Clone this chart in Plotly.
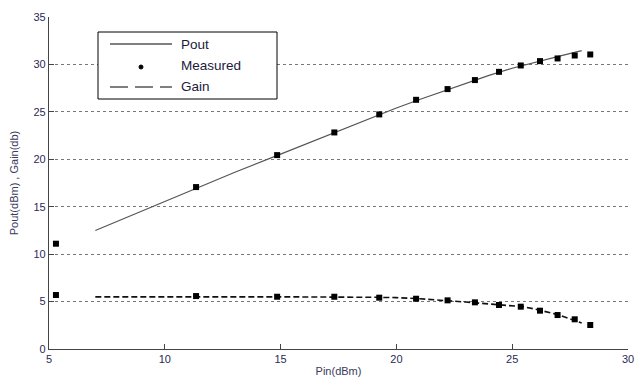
import plotly.graph_objects as go

# ---- data ----
pin_measured = [5.3, 11.35, 14.85, 17.32, 19.26, 20.85, 22.21, 23.39, 24.43, 25.37, 26.2, 26.96, 27.7, 28.37]
pout_measured = [11.1, 17.07, 20.44, 22.83, 24.73, 26.27, 27.40, 28.35, 29.22, 29.89, 30.35, 30.63, 30.94, 31.05]
gain_measured = [5.69, 5.58, 5.51, 5.51, 5.41, 5.30, 5.13, 4.92, 4.64, 4.46, 4.04, 3.58, 3.13, 2.53]

pin_pout_model = [7, 9, 11, 13, 15, 17, 19, 20, 21, 22, 23, 24, 25, 26, 27, 28]
pout_model = [12.5, 14.55, 16.6, 18.6, 20.55, 22.5, 24.45, 25.4, 26.3, 27.15, 28.0, 28.85, 29.6, 30.25, 30.85, 31.45]

pin_gain_model = [7, 11, 15, 19, 20, 21, 22, 23, 24, 25, 25.5, 26, 27, 28]
gain_model = [5.5, 5.52, 5.5, 5.45, 5.42, 5.3, 5.15, 4.95, 4.75, 4.55, 4.45, 4.2, 3.6, 2.75]

x_ticks = [5, 10, 15, 20, 25, 30]
y_ticks = [0, 5, 10, 15, 20, 25, 30, 35]
legend_labels = ["Pout", "Measured", "Gain"]

FONT = "Liberation Sans, Arial, sans-serif"
TICK_COLOR = "#2a2a58"

fig = go.Figure()
fig.add_trace(go.Scatter(x=pin_pout_model, y=pout_model, mode="lines",
                         line=dict(color="#555555", width=1.2), showlegend=False))
fig.add_trace(go.Scatter(x=pin_gain_model, y=gain_model, mode="lines",
                         line=dict(color="#111111", width=1.6, dash="6px,3px"), showlegend=False))
fig.add_trace(go.Scatter(x=pin_measured, y=pout_measured, mode="markers",
                         marker=dict(symbol="square", size=6, color="#000000"), showlegend=False))
fig.add_trace(go.Scatter(x=pin_measured, y=gain_measured, mode="markers",
                         marker=dict(symbol="square", size=6, color="#000000"), showlegend=False))

# ---- manual legend (paper coords) ----
L, R, T, B = 49, 628, 17, 349
def px(x):
    return (x - L) / (R - L)
def py(y):
    return (B - y) / (B - T)

shapes = [
    dict(type="rect", xref="paper", yref="paper", x0=px(98), x1=px(277), y0=py(99), y1=py(32),
         line=dict(color="#000000", width=1), fillcolor="white", layer="above"),
    dict(type="line", xref="paper", yref="paper", x0=px(110), x1=px(172), y0=py(44), y1=py(44),
         line=dict(color="#000000", width=1), layer="above"),
    dict(type="line", xref="paper", yref="paper", x0=px(110), x1=px(172), y0=py(87), y1=py(87),
         line=dict(color="#000000", width=1, dash="18px,7px"), layer="above"),
    dict(type="circle", xref="paper", yref="paper", x0=px(139), x1=px(143), y0=py(69), y1=py(65),
         line=dict(color="#000000", width=1), fillcolor="#000000", layer="above"),
]
annotations = []
for lab, yy in zip(legend_labels, [44, 66, 87]):
    annotations.append(dict(xref="paper", yref="paper", x=px(179), y=py(yy), text=lab,
                            showarrow=False, xanchor="left", yanchor="middle",
                            font=dict(family=FONT, size=13.5, color="#1a1a40")))

fig.update_layout(
    width=635, height=380,
    margin=dict(l=L, r=635 - R, t=T, b=380 - B),
    paper_bgcolor="white", plot_bgcolor="white",
    showlegend=False,
    shapes=shapes, annotations=annotations,
    font=dict(family=FONT, size=11, color=TICK_COLOR),
    xaxis=dict(range=[5, 30], tickvals=x_ticks, ticks="inside", ticklen=5, tickcolor="#444444",
               showline=True, linecolor="#444444", linewidth=1.2, showgrid=False, zeroline=False,
               automargin=False,
               tickfont=dict(family=FONT, size=11, color=TICK_COLOR),
               title=dict(text="Pin(dBm)", standoff=3, font=dict(family=FONT, size=11, color="#3a3a5a"))),
    yaxis=dict(range=[0, 35], tickvals=y_ticks, ticks="inside", ticklen=5, tickcolor="#444444",
               showline=True, linecolor="#444444", linewidth=1.2, showgrid=True,
               gridcolor="#777777", griddash="dot", gridwidth=1, zeroline=False,
               automargin=False,
               tickfont=dict(family=FONT, size=11, color=TICK_COLOR),
               title=dict(text="Pout(dBm) , Gain(db)", standoff=12,
                          font=dict(family=FONT, size=11, color="#3a3a5a"))),
)

fig.write_html("out.html", config={"displayModeBar": False},
               post_script="document.body.style.margin='0';document.body.style.overflow='hidden';")
